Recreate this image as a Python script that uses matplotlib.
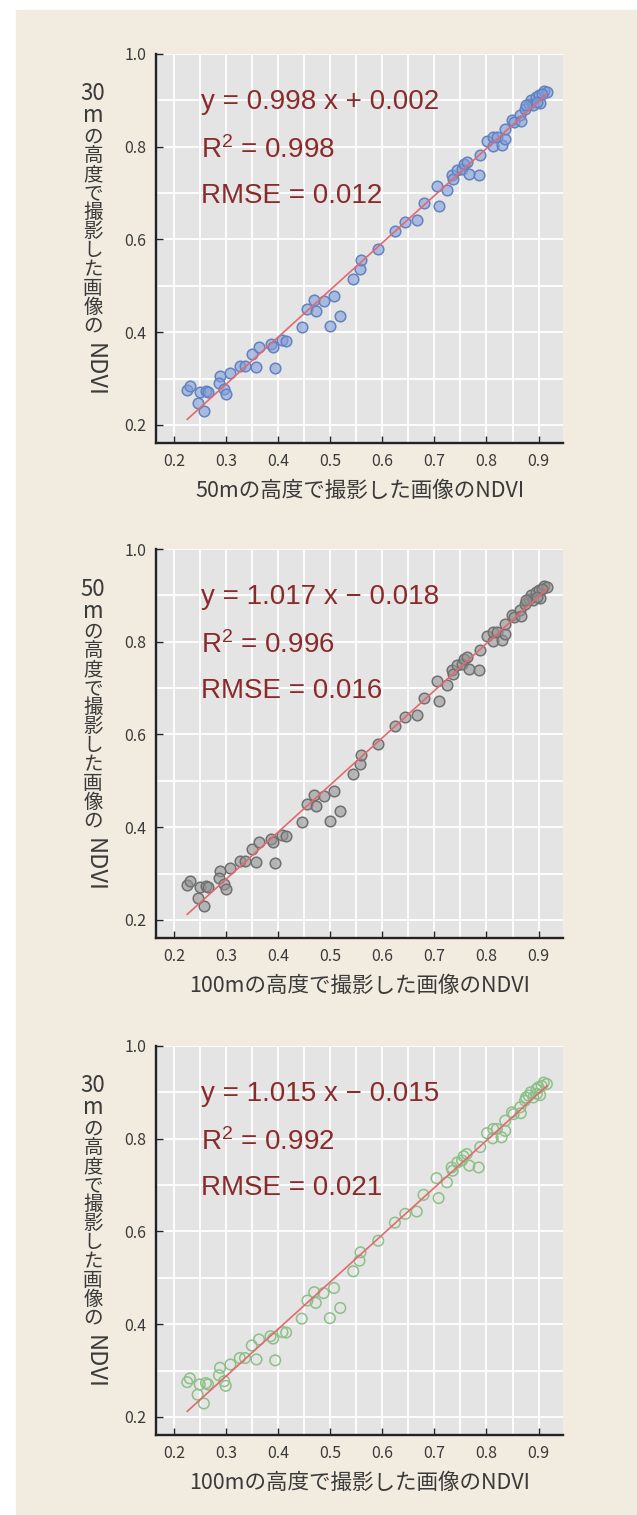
import matplotlib
matplotlib.use("Agg")
import matplotlib.pyplot as plt
from matplotlib.patches import Rectangle
from matplotlib.ticker import MultipleLocator

plt.rcParams['font.family'] = ['Noto Sans CJK JP', 'DejaVu Sans']
plt.rcParams['mathtext.fontset'] = 'custom'
plt.rcParams['mathtext.rm'] = 'Liberation Sans'
plt.rcParams['mathtext.it'] = 'Liberation Sans'

# NDVI pairs (same points in all three panels)
ndvi_x = [0.225, 0.230, 0.249, 0.245, 0.257, 0.261, 0.265, 0.288, 0.286, 0.296,
          0.299, 0.308, 0.326, 0.336, 0.349, 0.358, 0.363, 0.385, 0.390, 0.394,
          0.408, 0.415, 0.445, 0.456, 0.469, 0.472, 0.487, 0.499, 0.507, 0.519,
          0.544, 0.556, 0.558, 0.592, 0.624, 0.644, 0.666, 0.679, 0.704, 0.708,
          0.724, 0.733, 0.735, 0.744, 0.753, 0.756, 0.762, 0.767, 0.785, 0.788,
          0.801, 0.812, 0.813, 0.820, 0.829, 0.836, 0.836, 0.849, 0.852, 0.865,
          0.866, 0.874, 0.881, 0.885, 0.890, 0.896, 0.900, 0.903, 0.910, 0.916,
          0.906, 0.897, 0.876]
ndvi_y = [0.275, 0.283, 0.270, 0.248, 0.229, 0.273, 0.270, 0.306, 0.290, 0.277,
          0.267, 0.313, 0.327, 0.327, 0.354, 0.324, 0.367, 0.374, 0.369, 0.322,
          0.383, 0.382, 0.412, 0.451, 0.469, 0.446, 0.467, 0.413, 0.478, 0.435,
          0.514, 0.537, 0.555, 0.580, 0.619, 0.638, 0.643, 0.679, 0.715, 0.672,
          0.706, 0.738, 0.731, 0.749, 0.753, 0.762, 0.767, 0.742, 0.738, 0.782,
          0.812, 0.801, 0.821, 0.821, 0.803, 0.817, 0.839, 0.857, 0.853, 0.868,
          0.855, 0.882, 0.893, 0.900, 0.889, 0.907, 0.911, 0.894, 0.921, 0.918,
          0.914, 0.897, 0.889]

fit_x = [0.225, 0.916]
fit_y = [0.212, 0.914]

equations = ["y = 0.998 x + 0.002", "y = 1.017 x \u2212 0.018", "y = 1.015 x \u2212 0.015"]
r2_values = ["0.998", "0.996", "0.992"]
rmse_values = ["0.012", "0.016", "0.021"]
ylabel_heights = ["30", "50", "30"]
xlabels = ["50mの高度で撮影した画像のNDVI", "100mの高度で撮影した画像のNDVI",
           "100mの高度で撮影した画像のNDVI"]

face_colors = [(0.50, 0.62, 0.85, 0.6), (0.58, 0.58, 0.58, 0.6), 'none']
edge_colors = ['#6282c0', '#707070', '#8cc088']

W, H = 637, 1515
fig = plt.figure(figsize=(W / 100, H / 100), dpi=100, facecolor='white')
fig.patches.append(Rectangle((16 / W, 0), 1 - 16 / W, 1 - 10 / H,
                             transform=fig.transFigure, color='#f2ebdf', zorder=-5))

tops = [54, 549, 1046]
left, right, ax_h = 156, 563, 389
text_color = '#3a3a3a'
eq_color = '#8a2a2a'

for i in range(3):
    top = tops[i]
    ax = fig.add_axes([left / W, 1 - (top + ax_h) / H, (right - left) / W, ax_h / H])
    ax.set_facecolor('#e4e4e4')
    ax.set_xlim(0.165, 0.947)
    ax.set_ylim(0.161, 1.0)
    ax.xaxis.set_major_locator(MultipleLocator(0.1))
    ax.xaxis.set_minor_locator(MultipleLocator(0.05))
    ax.yaxis.set_major_locator(MultipleLocator(0.2))
    ax.yaxis.set_minor_locator(MultipleLocator(0.1))
    ax.grid(True, which='both', color='white', lw=1.3)
    ax.set_axisbelow(True)
    for s in ['top', 'right']:
        ax.spines[s].set_visible(False)
    for s in ['left', 'bottom']:
        ax.spines[s].set_linewidth(1.7)
        ax.spines[s].set_color('#222222')
    ax.tick_params(which='major', direction='in', length=5, width=1, color='#222222',
                   labelsize=11.5, labelcolor=text_color, pad=7)
    ax.tick_params(which='minor', length=0)
    ax.set_xticks([0.2, 0.3, 0.4, 0.5, 0.6, 0.7, 0.8, 0.9])
    ax.set_xticklabels(['0.2', '0.3', '0.4', '0.5', '0.6', '0.7', '0.8', '0.9'])

    ax.scatter(ndvi_x, ndvi_y, s=58, facecolors=face_colors[i],
               edgecolors=edge_colors[i], linewidths=1.1, zorder=3)
    ax.plot(fit_x, fit_y, color='#e46870', lw=1.2, zorder=4)

    ax.text(0.110, 0.859, equations[i], transform=ax.transAxes, fontsize=20,
            color=eq_color, family='Liberation Sans', va='baseline')
    ax.text(0.110, 0.733, r"R$^2$ = " + r2_values[i], transform=ax.transAxes, fontsize=20,
            color=eq_color, family='Liberation Sans', va='baseline')
    ax.text(0.110, 0.617, "RMSE = " + rmse_values[i], transform=ax.transAxes, fontsize=20,
            color=eq_color, family='Liberation Sans', va='baseline')

    ax.text(0.5, -54 / ax_h, xlabels[i], transform=ax.transAxes, fontsize=15.5,
            color=text_color, ha='center', va='baseline')

    # vertical y label
    cx = 93 / W
    fig.text(cx, 1 - (top + 40) / H, ylabel_heights[i], fontsize=16, color=text_color,
             ha='center', va='center')
    fig.text(cx, 1 - (top + 62) / H, "m", fontsize=16, color=text_color,
             ha='center', va='center')
    for k, ch in enumerate("の高度で撮影した画像の"):
        fig.text(cx, 1 - (top + 83 + 18.9 * k) / H, ch, fontsize=14, color=text_color,
                 ha='center', va='center')
    fig.text(cx + 1 / W, 1 - (top + 316) / H, "NDVI", fontsize=17, color=text_color,
             ha='center', va='center', rotation=-90)

fig.savefig("out.png", dpi=100, facecolor=fig.get_facecolor())
